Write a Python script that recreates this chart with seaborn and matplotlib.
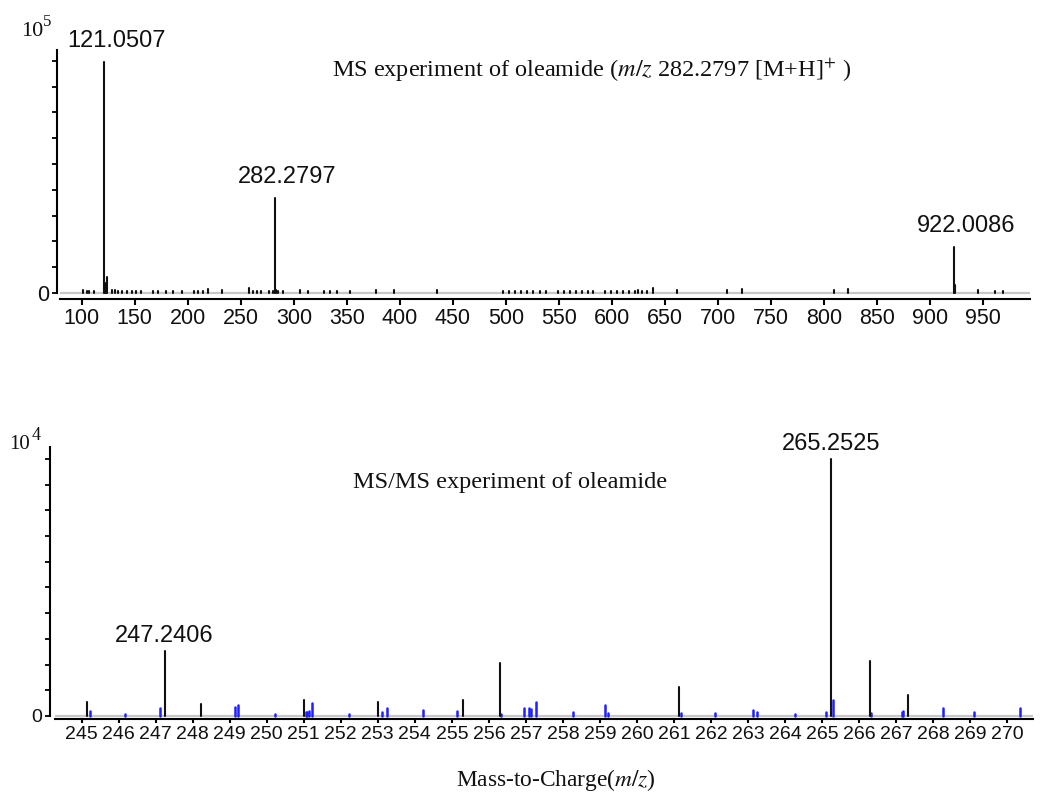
import matplotlib
matplotlib.use("Agg")
import numpy as np
import pandas as pd
import matplotlib.pyplot as plt
import seaborn as sns

# ---------------- data ----------------
# MS (full scan) peaks: m/z and intensity (counts)
ms1_mz = [100.9, 104.7, 107.2, 111.6, 121.05, 121.7, 122.4, 124.1, 128.3, 131.4,
          134.5, 137.7, 142.4, 147.1, 151.2, 155.6, 167.5, 172.2, 179.5, 186.4,
          194.3, 205.9, 209.9, 214.6, 219.4, 232.0, 258.0, 261.8, 265.0, 268.8,
          276.9, 280.5, 282.28, 283.3, 285.0, 290.0, 305.8, 313.1, 328.4, 334.1,
          340.4, 353.0, 377.2, 394.4, 435.3, 497.0, 502.7, 508.3, 514.0, 519.6,
          525.3, 531.6, 537.3, 549.3, 555.0, 560.6, 566.3, 572.0, 577.6, 582.3,
          593.4, 599.1, 604.7, 610.4, 616.0, 621.7, 624.8, 628.0, 632.7, 639.0,
          661.0, 708.1, 722.3, 809.3, 822.2, 922.01, 923.0, 945.3, 961.4, 968.3]
ms1_int = [1200, 900, 900, 700, 89500, 4000, 3000, 6200, 1000, 1000,
           900, 900, 900, 900, 800, 900, 800, 800, 800, 800,
           800, 800, 800, 900, 1400, 1200, 2000, 900, 900, 900,
           900, 900, 36800, 1200, 900, 900, 1200, 900, 900, 900,
           900, 900, 1100, 1100, 1100, 800, 800, 800, 800, 800,
           800, 800, 800, 800, 800, 800, 800, 800, 800, 800,
           800, 800, 800, 800, 800, 800, 1100, 900, 900, 2100,
           1000, 1000, 1700, 1000, 1700, 17800, 3000, 1000, 900, 900]

# MS/MS peaks (black: measured fragments, blue: minor signals)
ms2_black_mz = [245.15, 247.2406, 248.22, 251.02, 253.00, 255.29, 256.29,
                261.15, 265.2525, 266.29, 267.31]
ms2_black_int = [560, 2530, 450, 620, 560, 620, 2070, 1140, 10000, 2150, 820]

ms2_blue_mz = [245.22, 246.18, 247.13, 249.13, 249.23, 250.23, 251.05, 251.10,
               251.15, 251.22, 252.21, 253.11, 253.25, 254.23, 255.14, 256.33,
               256.95, 257.09, 257.14, 257.27, 258.27, 259.14, 259.22, 261.20,
               262.11, 263.13, 263.24, 264.27, 265.11, 265.30, 266.32, 267.16,
               267.20, 268.26, 269.11, 270.34]
ms2_blue_int = [180, 60, 300, 360, 430, 80, 150, 150, 200, 490, 80, 150, 300,
                230, 200, 80, 300, 300, 250, 560, 150, 430, 120, 120, 100, 230,
                150, 80, 150, 620, 120, 150, 200, 300, 150, 300]

ms1_labels = [121.0507, 282.2797, 922.0086]
ms1_label_int = [89500, 36800, 17800]
ms2_labels = [247.2406, 265.2525]
ms2_label_int = [2530, 10000]

ms1_xticks = list(range(100, 951, 50))
ms2_xticks = list(range(245, 271))
ms1_yticks = [i * 10000 for i in range(10)]
ms2_yticks = [i * 1000 for i in range(11)]

title1 = r"MS experiment of oleamide ($m/z$ 282.2797 [M+H]$^{+}$ )"
title2 = "MS/MS experiment of oleamide"
xlabel = r"Mass-to-Charge($m/z$)"

# ---------------- style ----------------
sns.set_theme(style="white")
plt.rcParams["font.family"] = ["Liberation Serif", "DejaVu Serif"]
plt.rcParams["mathtext.fontset"] = "stix"

SANS = ["Liberation Sans", "DejaVu Sans"]

W, H = 1040, 793
fig = plt.figure(figsize=(W / 100, H / 100), dpi=100)
fig.patch.set_facecolor("white")


def px_axes(left, top, right, bottom):
    return fig.add_axes([left / W, 1 - bottom / H, (right - left) / W, (bottom - top) / H])


def stems(ax, mz, inten, color, lw):
    n = len(mz)
    df = pd.DataFrame({
        "mz": np.repeat(mz, 2),
        "intensity": np.column_stack([np.zeros(n), np.asarray(inten, float)]).ravel(),
        "peak": np.repeat(np.arange(n), 2),
    })
    sns.lineplot(data=df, x="mz", y="intensity", units="peak", estimator=None,
                 sort=False, color=color, lw=lw, ax=ax, legend=False)


def style_axes(ax, xticks, yticks, xlim, ylim, ytop, lab_size, xtick_len, outward):
    ax.set_facecolor("white")
    ax.axhline(0, color="#c8c8c8", lw=1.6, zorder=0)
    ax.set_xlim(*xlim)
    ax.set_ylim(*ylim)
    ax.set_xticks(xticks)
    ax.set_xticklabels([str(t) for t in xticks])
    ax.set_yticks(yticks)
    ax.set_yticklabels(["0"] + [""] * (len(yticks) - 1))
    for s in ["top", "right"]:
        ax.spines[s].set_visible(False)
    for s in ["left", "bottom"]:
        ax.spines[s].set_color("black")
        ax.spines[s].set_linewidth(1.5)
    ax.spines["left"].set_bounds(0, ytop)
    ax.spines["left"].set_position(("outward", outward))
    ax.tick_params(axis="x", direction="out", length=xtick_len, width=1.5,
                   color="black", pad=2, labelsize=lab_size, bottom=True)
    ax.tick_params(axis="y", direction="out", length=3.8, width=1.3,
                   color="black", pad=2, labelsize=lab_size, left=True)
    for lab in ax.get_xticklabels() + ax.get_yticklabels():
        lab.set_fontfamily(SANS)
        lab.set_color("#111111")
    ax.set_xlabel("")
    ax.set_ylabel("")
    ax.grid(False)


# ---------------- top panel: MS ----------------
ax1 = px_axes(60, 50, 1030, 299)
stems(ax1, ms1_mz, ms1_int, "#111111", 1.5)
style_axes(ax1, ms1_xticks, ms1_yticks, (79.5, 994), (-2300, 94200), 94200, 15.5, 4.3, 2.2)
for mz, it in zip(ms1_labels, ms1_label_int):
    ax1.annotate(f"{mz:.4f}", xy=(mz, it), xytext=(12, 10), textcoords="offset pixels",
                 ha="center", va="bottom", fontsize=17, family=SANS, color="#111111")
fig.text(332 / W, 1 - 70 / H, title1, ha="left", va="center", fontsize=17.5, color="#111111")
fig.text(21 / W, 1 - 32 / H, r"10", ha="left", va="center", fontsize=16, color="#111111")
fig.text(43 / W, 1 - 22 / H, r"5", ha="left", va="center", fontsize=12, color="#111111")

# ---------------- bottom panel: MS/MS ----------------
ax2 = px_axes(55, 447, 1033, 719)
stems(ax2, ms2_blue_mz, ms2_blue_int, "#1f1fff", 1.8)
stems(ax2, ms2_black_mz, ms2_black_int, "#111111", 1.5)
style_axes(ax2, ms2_xticks, ms2_yticks, (244.28, 270.70), (-120, 10470), 10470, 14, 3.0, 3.6)
for mz, it in zip(ms2_labels, ms2_label_int):
    ax2.annotate(f"{mz:.4f}", xy=(mz, it), xytext=(0, 4), textcoords="offset pixels",
                 ha="center", va="bottom", fontsize=17, family=SANS, color="#111111")
fig.text(510 / W, 1 - 482 / H, title2, ha="center", va="center", fontsize=17.5, color="#111111")
fig.text(9 / W, 1 - 445 / H, "10", ha="left", va="center", fontsize=15, color="#111111")
fig.text(32 / W, 1 - 436 / H, "4", ha="left", va="center", fontsize=13, color="#111111")

fig.text(556 / W, 1 - 780 / H, xlabel, ha="center", va="center", fontsize=16.8, color="#111111")

fig.savefig("out.png", dpi=100, facecolor="white")
